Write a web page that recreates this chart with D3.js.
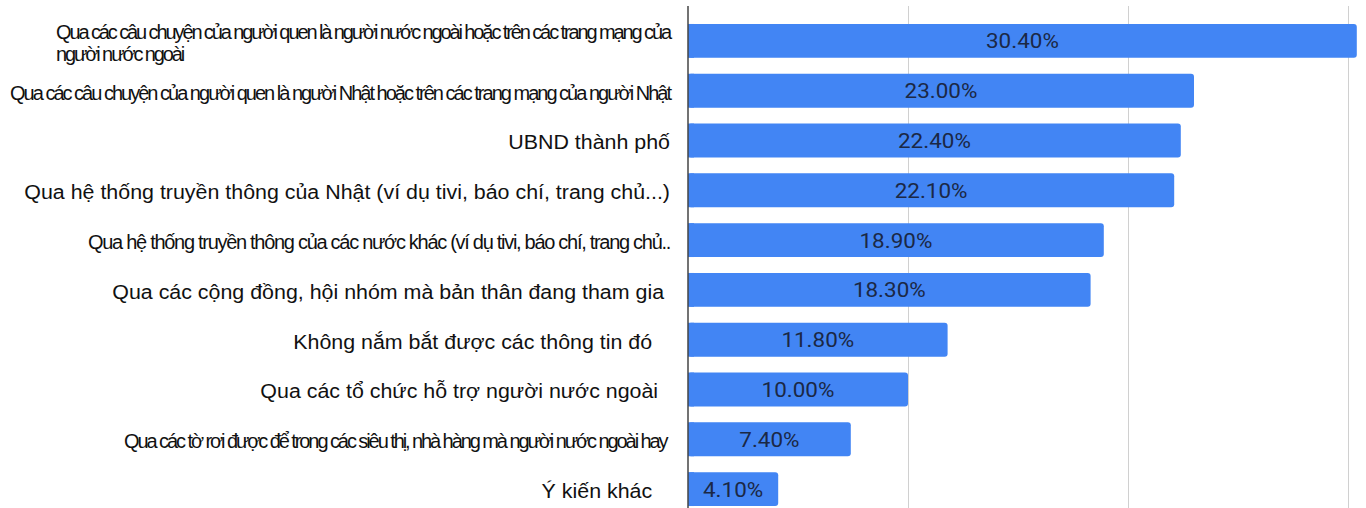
<!DOCTYPE html>
<html>
<head>
    <meta charset="utf-8">
    <title>Kênh tiếp nhận thông tin</title>
    <style>
        body { margin: 0; background: #fff; }
        svg text { white-space: pre; }
    </style>
</head>
<body>
    <script src="https://cdnjs.cloudflare.com/ajax/libs/d3/7.9.0/d3.min.js"></script>
    <script>

        // data
        const categories = [
            "Qua các câu chuyện của người quen là người nước ngoài hoặc trên các trang mạng của\nngười nước ngoài",
            "Qua các câu chuyện của người quen là người Nhật hoặc trên các trang mạng của người Nhật",
            "UBND thành phố",
            "Qua hệ thống truyền thông của Nhật (ví dụ tivi, báo chí, trang chủ...)",
            "Qua hệ thống truyền thông của các nước khác (ví dụ tivi, báo chí, trang chủ..",
            "Qua các cộng đồng, hội nhóm mà bản thân đang tham gia ",
            "Không nắm bắt được các thông tin đó   ",
            "Qua các tổ chức hỗ trợ người nước ngoài  ",
            "Qua các tờ rơi được để trong các siêu thị, nhà hàng mà người nước ngoài hay ",
            "Ý kiến khác   "
        ];
        const values = [30.4, 23.0, 22.4, 22.1, 18.9, 18.3, 11.8, 10.0, 7.4, 4.1];
        const gridTicks = [10, 20, 30];

        const width = 1366;
        const height = 508;
        const axisX = 688;
        const labelRight = 670;
        const stretch = 1.07;

        // labels packed tightly in the original: index -> target width
        const squeeze = {0: 614, 1: 660, 4: 582, 8: 546};

        const svg = d3.select("body")
            .append("svg")
            .attr("width", width)
            .attr("height", height);

        const x = d3.scaleLinear()
            .domain([0, 30])
            .range([axisX, 1348]);

        const y = d3.scaleBand()
            .domain(categories)
            .range([16, 514])
            .paddingInner(0.32)
            .paddingOuter(0.16);

        // grid
        svg.append("g")
            .selectAll("line")
            .data(gridTicks)
            .join("line")
            .attr("x1", d => x(d) + 0.5)
            .attr("x2", d => x(d) + 0.5)
            .attr("y1", 6)
            .attr("y2", height)
            .attr("stroke", "#d0d0d0")
            .attr("stroke-width", 1);

        // bars
        const bars = svg.append("g")
            .selectAll("g")
            .data(values)
            .join("g");

        bars.append("rect")
            .attr("x", x(0))
            .attr("y", (d, i) => y(categories[i]))
            .attr("width", d => x(d) - x(0))
            .attr("height", y.bandwidth())
            .attr("rx", 3)
            .attr("fill", "#4285F4");

        bars.append("rect")
            .attr("x", x(0))
            .attr("y", (d, i) => y(categories[i]))
            .attr("width", 6)
            .attr("height", y.bandwidth())
            .attr("fill", "#4285F4");

        bars.append("text")
            .attr("transform", (d, i) => `translate(${(x(0) + x(d)) / 2},${y(categories[i]) + y.bandwidth() / 2}) scale(${stretch},1)`)
            .attr("dy", "0.36em")
            .attr("text-anchor", "middle")
            .attr("font-family", "Roboto, sans-serif")
            .attr("font-size", 21)
            .attr("fill", "#1b2845")
            .text(d => d.toFixed(2) + "%");

        // axis line
        svg.append("line")
            .attr("x1", axisX)
            .attr("x2", axisX)
            .attr("y1", 6)
            .attr("y2", height)
            .attr("stroke", "#444")
            .attr("stroke-width", 1.5);

        // category labels
        const labels = svg.append("g")
            .attr("font-family", "'Liberation Sans', Arial, sans-serif")
            .attr("font-size", 20)
            .attr("fill", "#111");

        categories.forEach((c, i) => {
            const lines = c.split("\n");
            const cy = y(c) + y.bandwidth() / 2 + 2;
            const g = labels.append("g");
            const t = g.append("text")
                .attr("text-anchor", "end")
                .attr("y", lines.length > 1 ? cy - 11 : cy)
                .attr("dy", "0.35em")
                .text(lines[0]);
            if (squeeze[i]) {
                const natural = t.node().getComputedTextLength();
                const n = [...lines[0]].length;
                const ls = (squeeze[i] - natural) / n;
                g.attr("letter-spacing", ls)
                    .attr("transform", `translate(${labelRight},0)`);
                if (lines.length > 1) {
                    g.append("text")
                        .attr("x", -squeeze[i])
                        .attr("y", cy + 11)
                        .attr("dy", "0.35em")
                        .text(lines[1]);
                }
            } else {
                g.attr("transform", `translate(${labelRight},0) scale(${stretch},1)`);
            }
        });

    </script>
</body>
</html>
